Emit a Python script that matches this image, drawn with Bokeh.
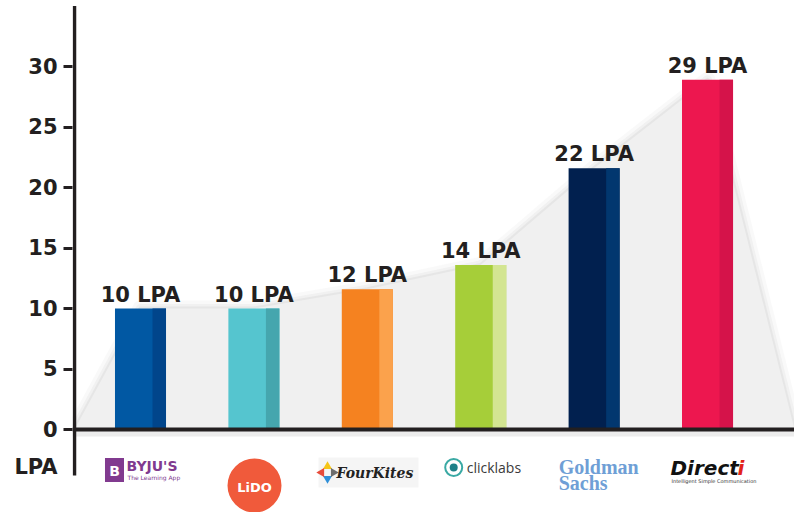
from bokeh.plotting import figure
from bokeh.models import Range1d, FixedTicker
from bokeh.core.properties import value
from bokeh.embed import file_html
from bokeh.resources import INLINE
import math

# ---- data ----
companies = ["BYJU'S", "LIDO", "FourKites", "clicklabs", "Goldman Sachs", "Directi"]
salaries = [10, 10, 11.6, 13.6, 21.6, 28.9]
salary_labels = ["10 LPA", "10 LPA", "12 LPA", "14 LPA", "22 LPA", "29 LPA"]
bar_colors = ["#0158a3", "#55c5cf", "#f58220", "#a6ce39", "#01204f", "#ed174f"]
strip_colors = ["#01458b", "#45a6ae", "#fba24c", "#d3e591", "#02376f", "#d5134a"]
y_ticks = [0, 5, 10, 15, 20, 25, 30]
y_unit = "LPA"

xs = list(range(len(companies)))

# screen helpers (px -> data) for decorations
PX = 1 / 113.4
PY = 1 / 12.1
def ly(py):
    return (429 - py) * PY
def lx(i, px, center):
    return i + (px - center) * PX

X0 = -0.5996
X1 = 5.767
DARK = "#231f20"

p = figure(width=794, height=512, x_range=Range1d(X0, X1), y_range=Range1d(-83 * PY, 429 * PY),
           output_backend="svg", toolbar_location=None, x_axis_location=None,
           min_border_left=72, min_border_right=0, min_border_top=0, min_border_bottom=0)
p.grid.visible = False
p.outline_line_color = None
p.background_fill_color = "white"
p.border_fill_color = "white"

ax = p.yaxis[0]
ax.ticker = FixedTicker(ticks=y_ticks + [-3.1], minor_ticks=y_ticks)
ax.major_label_overrides = {-3.1: y_unit}
ax.axis_line_color = None
ax.major_tick_line_color = None
ax.major_tick_out = 0
ax.major_tick_in = 0
ax.minor_tick_out = 9
ax.minor_tick_in = 0
ax.minor_tick_line_width = 3
ax.minor_tick_line_color = DARK
ax.major_label_standoff = 6
ax.major_label_text_font = "DejaVu Sans"
ax.major_label_text_font_style = "bold"
ax.major_label_text_font_size = "21px"
ax.major_label_text_color = DARK

# ---- grey area behind bars ----
area_x = [X0 + 2 * PX] + xs + [X1]
area_y = [0] + salaries + [0]
for w, a in [(16, 0.10), (9, 0.16), (4, 0.25)]:
    p.line(area_x, area_y, line_width=w, line_color="#c8c8c8", line_alpha=a, line_join="round")
p.patch(area_x, area_y, fill_color="#f0f0f0", line_color=None)

# ---- bars ----
bw = 0.45
sw = 0.119
p.vbar(x=xs, top=salaries, bottom=0, width=bw, fill_color=bar_colors, line_color=None)
p.vbar(x=[i + bw / 2 - sw / 2 for i in xs], top=salaries, bottom=0, width=sw,
       fill_color=strip_colors, line_color=None)

p.text(x=xs, y=[s + 14 * PY for s in salaries], text=salary_labels, text_align="center",
       text_baseline="alphabetic", text_font=value("DejaVu Sans"), text_font_style="bold",
       text_font_size="21px", text_color=DARK)

# ---- axes lines ----
p.segment(x0=[X0], y0=[-4 * PY], x1=[X1], y1=[-4 * PY], line_width=6, line_color="#ececec")
p.segment(x0=[X0], y0=[0], x1=[X1], y1=[0], line_width=4, line_color=DARK)
yx = X0 + 2 * PX
p.segment(x0=[yx], y0=[ly(475)], x1=[yx], y1=[35.0], line_width=3.5, line_color=DARK)

# ---- logos (text approximations) ----
# BYJU'S
c = 140
p.rect(x=[lx(0, 114, c)], y=[ly(469.5)], width=19 * PX, height=24 * PY,
       fill_color="#813a8f", line_color=None)
p.text(x=[lx(0, 114, c)], y=[ly(470)], text=["B"], text_align="center", text_baseline="middle",
       text_font=value("DejaVu Sans"), text_font_style="bold", text_font_size="14px", text_color="white")
p.text(x=[lx(0, 126, c)], y=[ly(465.5)], text=[companies[0]], text_align="left", text_baseline="middle",
       text_font=value("DejaVu Sans"), text_font_style="bold", text_font_size="14px", text_color="#813a8f")
p.text(x=[lx(0, 127, c)], y=[ly(477)], text=["The Learning App"], text_align="left", text_baseline="middle",
       text_font=value("DejaVu Sans"), text_font_size="6px", text_color="#813a8f")

# LIDO
c = 253.4
p.scatter(x=[lx(1, 254, c)], y=[ly(485)], size=54, marker="circle", fill_color="#f05a3b", line_color=None)
p.text(x=[lx(1, 254, c)], y=[ly(487)], text=["LiDO"], text_align="center", text_baseline="middle",
       text_font=value("DejaVu Sans"), text_font_style="bold", text_font_size="13px", text_color="white")

# FourKites
c = 366.8
p.rect(x=[lx(2, 368, c)], y=[ly(472)], width=100 * PX, height=30 * PY, fill_color="#f5f5f5", line_color=None)
p.scatter(x=[lx(2, 327, c)], y=[ly(466)], size=9, marker="triangle", fill_color="#f5c518", line_color=None)
p.scatter(x=[lx(2, 327, c)], y=[ly(478)], size=9, marker="inverted_triangle", fill_color="#2f8fd8", line_color=None)
p.scatter(x=[lx(2, 321, c)], y=[ly(472)], size=9, marker="triangle", angle=math.pi / 2,
          fill_color="#e84b3a", line_color=None)
p.scatter(x=[lx(2, 333, c)], y=[ly(472)], size=9, marker="triangle", angle=-math.pi / 2,
          fill_color="#6d6d6d", line_color=None)
p.text(x=[lx(2, 336, c)], y=[ly(472)], text=[companies[2]], text_align="left", text_baseline="middle",
       text_font=value("DejaVu Serif"), text_font_style="bold italic", text_font_size="14px", text_color="#222222")

# clicklabs
c = 480
p.scatter(x=[lx(3, 453, c)], y=[ly(467)], size=17, marker="circle", fill_color=None,
          line_color="#3aa9a4", line_width=2)
p.scatter(x=[lx(3, 453, c)], y=[ly(467)], size=8, marker="circle", fill_color="#1d8088", line_color=None)
p.text(x=[lx(3, 466, c)], y=[ly(467)], text=[companies[3]], text_align="left", text_baseline="middle",
       text_font=value("Open Sans"), text_font_size="14px", text_color="#3a3a3a")

# Goldman Sachs
c = 593.4
gs = companies[4].split(" ")
p.text(x=[lx(4, 558, c), lx(4, 558, c)], y=[ly(466), ly(482)], text=gs, text_align="left",
       text_baseline="middle", text_font=value("Liberation Serif"), text_font_style="bold",
       text_font_size="20px", text_color="#6f9fd6")

# Directi
c = 707
p.text(x=[lx(5, 670, c)], y=[ly(467)], text=[companies[5][:-1]], text_align="left", text_baseline="middle",
       text_font=value("DejaVu Sans"), text_font_style="bold italic", text_font_size="20px", text_color="#111111")
p.text(x=[lx(5, 737, c)], y=[ly(467)], text=[companies[5][-1]], text_align="left", text_baseline="middle",
       text_font=value("DejaVu Sans"), text_font_style="bold italic", text_font_size="20px", text_color="#e2231a")
p.text(x=[lx(5, 671, c)], y=[ly(480)], text=["Intelligent Simple Communication"], text_align="left",
       text_baseline="middle", text_font=value("DejaVu Sans"), text_font_size="5px", text_color="#333333")

open("out.html", "w").write(file_html(p, INLINE))
